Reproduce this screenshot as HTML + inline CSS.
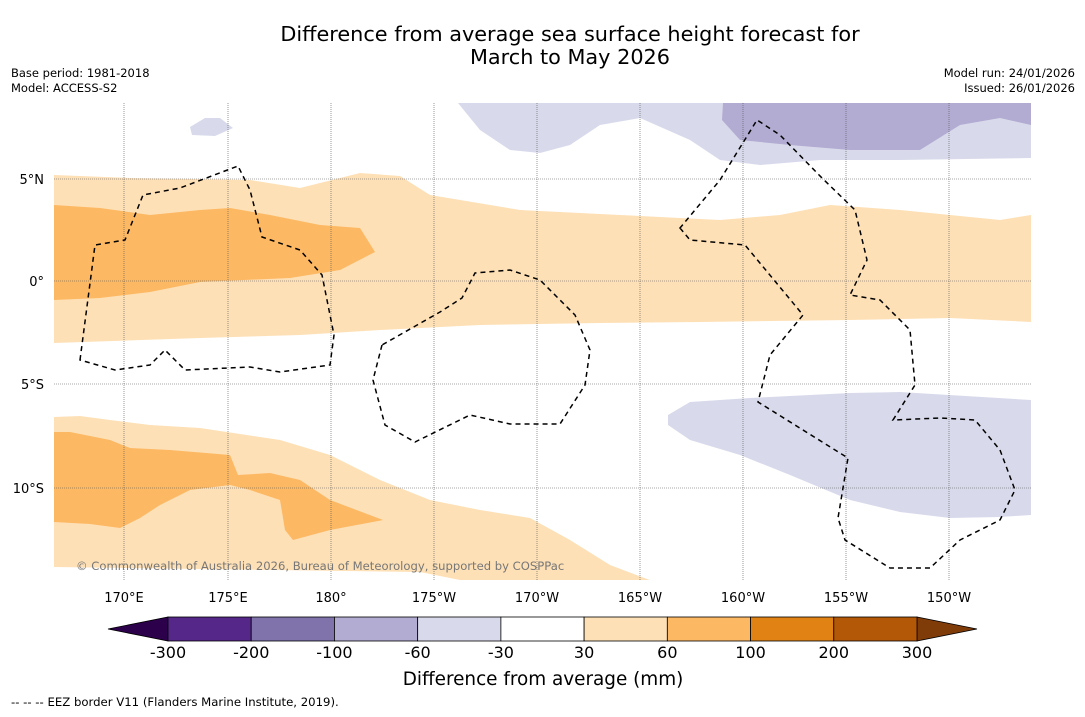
<!DOCTYPE html>
<html><head><meta charset="utf-8"><style>
body{margin:0;background:#fff;font-family:"DejaVu Sans",sans-serif}
svg text{font-family:"DejaVu Sans",sans-serif}
</style></head><body>
<svg width="1085" height="713" viewBox="0 0 1085 713">
<text x="570" y="41" font-size="20.8" text-anchor="middle">Difference from average sea surface height forecast for</text>
<text x="570" y="64" font-size="20.8" text-anchor="middle">March to May 2026</text>
<text x="11" y="77" font-size="11.5">Base period: 1981-2018</text>
<text x="11" y="92" font-size="11.5">Model: ACCESS-S2</text>
<text x="1075" y="77" font-size="11.5" text-anchor="end">Model run: 24/01/2026</text>
<text x="1075" y="92" font-size="11.5" text-anchor="end">Issued: 26/01/2026</text>
<g>
<clipPath id="c"><rect x="54" y="103" width="977" height="477"/></clipPath>
<g clip-path="url(#c)">
<path fill="#fee0b6" d="M54,175 L130,178 250,180 300,188 360,173 400,176 430,195 520,210 620,215 720,220 780,215 830,205 900,210 1000,220 1031,215 L1031,322 950,318 850,320 700,322 600,323 480,325 380,330 300,335 200,338 54,343Z"/>
<path fill="#fdb863" d="M54,205 L100,208 150,215 200,210 230,208 270,215 320,225 360,228 375,252 340,270 290,278 200,282 150,292 100,298 54,300Z"/>
<path fill="#fee0b6" d="M54,417 L80,416 110,420 150,425 200,428 280,440 330,455 380,480 430,500 480,510 530,518 570,540 610,565 655,582 470,582 420,572 54,567Z"/>
<path fill="#fdb863" d="M54,432 L70,432 110,440 130,448 170,450 230,455 238,475 270,473 300,480 330,500 383,520 330,530 293,540 285,530 280,500 250,490 230,485 190,490 160,505 140,518 120,528 90,524 54,522Z"/>
<path fill="#d8daeb" d="M458,103 L480,130 510,150 540,153 570,145 600,125 640,118 690,140 720,160 760,165 820,160 900,160 1031,158 1031,103Z"/>
<path fill="#b2abd2" d="M723,103 L722,120 740,140 790,145 850,150 920,150 960,125 1000,118 1031,125 1031,103Z"/>
<path fill="#d8daeb" d="M190,127 L205,118 220,118 233,128 215,136 192,135Z"/>
<path fill="#d8daeb" d="M668,415 L690,402 750,398 850,393 900,392 1031,400 1031,515 1000,517 950,518 900,512 850,500 790,475 740,455 690,440 668,425Z"/>
</g>
<g stroke="#555" stroke-width="0.6" stroke-dasharray="1,1">
<line x1="124" y1="103" x2="124" y2="580"/><line x1="228" y1="103" x2="228" y2="580"/><line x1="331" y1="103" x2="331" y2="580"/><line x1="434" y1="103" x2="434" y2="580"/><line x1="537" y1="103" x2="537" y2="580"/><line x1="640" y1="103" x2="640" y2="580"/><line x1="743" y1="103" x2="743" y2="580"/><line x1="846" y1="103" x2="846" y2="580"/><line x1="949" y1="103" x2="949" y2="580"/>
<line x1="54" y1="179" x2="1031" y2="179"/><line x1="54" y1="281" x2="1031" y2="281"/><line x1="54" y1="384" x2="1031" y2="384"/><line x1="54" y1="488" x2="1031" y2="488"/>
</g>
<g fill="none" stroke="#000" stroke-width="1.5" stroke-dasharray="5,4">
<path d="M80,360 L95,245 125,240 143,195 180,188 238,166 250,190 262,237 300,250 322,275 334,335 330,365 280,372 250,367 185,370 165,350 150,365 115,370Z"/>
<path d="M382,345 L373,380 385,425 415,442 470,415 510,424 560,424 585,385 590,350 575,315 540,280 510,270 475,273 462,298 440,312Z"/>
<path d="M680,228 L690,240 745,245 803,315 770,355 758,402 848,458 838,518 845,540 890,568 930,568 960,540 1000,520 1015,490 1000,450 975,420 940,418 893,420 915,385 910,330 880,300 850,295 867,260 855,210 822,178 780,135 757,120 720,180Z"/>
</g>
<text x="76" y="570" font-size="11.6" fill="#777">© Commonwealth of Australia 2026, Bureau of Meteorology, supported by COSPPac</text>
</g>
<g font-size="13" text-anchor="middle">
<text x="124" y="602">170°E</text><text x="228" y="602">175°E</text><text x="331" y="602">180°</text><text x="434" y="602">175°W</text><text x="537" y="602">170°W</text><text x="640" y="602">165°W</text><text x="743" y="602">160°W</text><text x="846" y="602">155°W</text><text x="949" y="602">150°W</text>
</g>
<g font-size="13" text-anchor="end">
<text x="44" y="184">5°N</text><text x="44" y="286">0°</text><text x="44" y="389">5°S</text><text x="44" y="493">10°S</text>
</g>
<g id="cbar"></g>
<text x="543" y="685" font-size="18.4" text-anchor="middle">Difference from average (mm)</text>
<text x="11" y="706" font-size="11.7">--  --  -- EEZ border V11 (Flanders Marine Institute, 2019).</text>
</svg>
<script>
const levels=["-300","-200","-100","-60","-30","30","60","100","200","300"];
const colors=["#542788","#8073ac","#b2abd2","#d8daeb","#ffffff","#fee0b6","#fdb863","#e08214","#b35806"];
const extendColors=["#2d004b","#7f3b08"];
const g=document.getElementById('cbar');
const ns="http://www.w3.org/2000/svg";
const x0=168,x1=917,y=617,h=24,w=(x1-x0)/colors.length;
function mk(t,a){const e=document.createElementNS(ns,t);for(const k in a)e.setAttribute(k,a[k]);g.appendChild(e);return e;}
let lt=mk('polygon',{points:`108,${y+h/2} ${x0},${y} ${x0},${y+h}`,fill:extendColors[0],stroke:'#000','stroke-width':0.8});


let rt=mk('polygon',{points:`977,${y+h/2} ${x1},${y} ${x1},${y+h}`,fill:extendColors[1],stroke:'#000','stroke-width':0.8});


colors.forEach((c,i)=>{const r=mk('rect',{x:x0+i*w,y:y,width:w,height:h,fill:c,stroke:'#000','stroke-width':0.8});

});
levels.forEach((l,i)=>{const t=mk('text',{x:x0+i*w,y:658,'font-size':16,'text-anchor':'middle'});t.textContent=l;

});
</script>
</body></html>
